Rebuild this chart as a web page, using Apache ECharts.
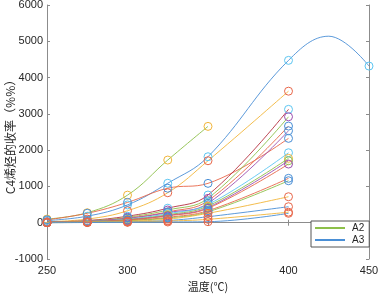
<!DOCTYPE html>
<html>
<head>
<meta charset="utf-8">
<script src="https://cdn.jsdelivr.net/npm/echarts@6/dist/echarts.min.js"></script>
<style>
html, body { margin: 0; padding: 0; background: #fff; }
#chart { width: 380px; height: 294px; }
</style>
</head>
<body>
<div id="chart"></div>
<script>
// 温度点
var temps = [250, 275, 300, 325, 350, 400, 450];
// 各组收率数据（null = 无数据）
var runA2 = [100, 275, 760, 1727, 2655, null, null];
var runA3 = [60, 180, 490, 1088, 1818, 4474, 4317];
var run3 = [30, 100, 330, 826, 1708, 3625, null];
var run4 = [80, 260, 560, 950, 1085, 2325, null];
var run5 = [20, 60, 180, 400, 763, 3124, null];
var run6 = [15, 50, 150, 350, 672, 2920, null];
var run7 = [10, 40, 130, 300, 606, 2664, null];
var run8 = [10, 40, 120, 280, 534, 2534, null];
var run9 = [10, 30, 100, 250, 500, 1928, null];
var run10 = [10, 30, 90, 220, 460, 1774, null];
var run11 = [8, 25, 80, 200, 420, 1708, null];
var run12 = [8, 25, 75, 190, 397, 1617, null];
var run13 = [5, 20, 60, 150, 331, 1223, null];
var run14 = [5, 18, 55, 130, 300, 1157, null];
var run15 = [5, 15, 40, 100, 259, 716, null];
var run16 = [3, 10, 25, 60, 165, 441, null];
var run17 = [2, 8, 20, 45, 94, 290, null];
var run18 = [1, 5, 10, 20, 28, 259, null];
// A3 拟合曲线在 425℃ 附近的峰值
var a3PeakTemp = 425;
var a3PeakValue = 5140;

var C = {
    blue: '#4a8fd6', red: '#e8674a', yellow: '#f2b53a', purple: '#9c4fb0',
    green: '#8dc04a', lb: '#5cc6f2', dred: '#b5303f'
};
// [数据, 曲线颜色, 圆圈颜色, 名称]
var runs = [
    [runA2, C.green, C.yellow, 'A2'],
    [runA3, C.blue, C.lb, 'A3'],
    [run3, C.yellow, C.red],
    [run4, C.red, C.blue],
    [run5, C.dred, C.lb],
    [run6, C.green, C.purple],
    [run7, C.red, C.blue],
    [run8, C.purple, C.blue],
    [run9, C.lb, C.lb],
    [run10, C.green, C.yellow],
    [run11, C.purple, C.green],
    [run12, C.red, C.purple],
    [run13, C.red, C.blue],
    [run14, C.green, C.blue],
    [run15, C.yellow, C.red],
    [run16, C.blue, C.red],
    [run17, C.yellow, C.red],
    [run18, C.blue, C.red]
];

function pairs(vals) {
    var out = [];
    for (var i = 0; i < temps.length; i++) {
        if (vals[i] != null) out.push([temps[i], vals[i]]);
    }
    return out;
}

var series = [];
runs.forEach(function (r, k) {
    var pts = pairs(r[0]);
    var curve = pts.slice();
    if (k === 1) {
        curve.splice(curve.length - 1, 0, [a3PeakTemp, a3PeakValue]);
    }
    series.push({
        name: r[3] || ('s' + k),
        type: 'line',
        data: curve,
        smooth: 0.4,
        symbol: 'none',
        lineStyle: { color: r[1], width: 0.9 },
        itemStyle: { color: r[1] },
        silent: true,
        z: 2
    });
    series.push({
        type: 'scatter',
        data: pts,
        symbol: 'circle',
        symbolSize: 8,
        itemStyle: { color: 'rgba(0,0,0,0)', borderColor: r[2], borderWidth: 1, opacity: 1 },
        silent: true,
        z: 3
    });
});

var axisGray = '#8c8c8c';
var labelStyle = { color: '#262626', fontSize: 11, fontFamily: 'Liberation Sans, Arial, sans-serif' };
var plain = function (v) { return String(v); };

var chart = echarts.init(document.getElementById('chart'));
var option = {
    animation: false,
    backgroundColor: '#fff',
    grid: { left: 47, right: 11, top: 5, bottom: 35, containLabel: false, outerBoundsMode: 'none' },
    graphic: [{
        type: 'text',
        x: 10, y: 134,
        rotation: Math.PI / 2,
        style: {
            text: 'C4烯烃的收率（%%）',
            fill: '#262626',
            font: '12px "Noto Sans CJK SC"',
            align: 'center',
            verticalAlign: 'middle'
        }
    }],
    legend: {
        data: ['A2', 'A3'],
        orient: 'vertical',
        left: 311,
        top: 221,
        itemWidth: 30,
        itemHeight: 10,
        itemGap: 2,
        padding: [2, 5, 2, 3],
        backgroundColor: '#fff',
        borderColor: '#555',
        borderWidth: 1,
        borderRadius: 0,
        itemStyle: { color: 'rgba(0,0,0,0)', borderWidth: 0 },
        textStyle: { color: '#262626', fontSize: 10, fontFamily: 'Liberation Sans, Arial, sans-serif', padding: [0, 0, 0, 2] }
    },
    xAxis: [{
        type: 'value',
        min: 250, max: 450, interval: 50,
        name: '温度(℃)',
        nameLocation: 'middle',
        nameGap: 18,
        nameTextStyle: { color: '#262626', fontSize: 11, fontFamily: 'Noto Sans CJK SC' },
        axisLine: { lineStyle: { color: axisGray } },
        axisTick: { inside: true, length: 3, lineStyle: { color: axisGray } },
        axisLabel: Object.assign({ margin: 6, formatter: plain }, labelStyle),
        splitLine: { show: false }
    }, {
        type: 'value', position: 'top',
        min: 250, max: 450, interval: 50,
        axisLine: { lineStyle: { color: axisGray } },
        axisTick: { inside: true, length: 3, lineStyle: { color: axisGray } },
        axisLabel: { show: false },
        splitLine: { show: false }
    }],
    yAxis: [{
        type: 'value',
        min: -1000, max: 6000, interval: 1000,
        axisLine: { show: true, lineStyle: { color: axisGray } },
        axisTick: { show: true, inside: true, length: 3, lineStyle: { color: axisGray } },
        axisLabel: Object.assign({ margin: 4, formatter: plain }, labelStyle),
        splitLine: { show: false }
    }, {
        type: 'value', position: 'right',
        min: -1000, max: 6000, interval: 1000,
        axisLine: { show: true, lineStyle: { color: axisGray } },
        axisTick: { show: true, inside: true, length: 3, lineStyle: { color: axisGray } },
        axisLabel: { show: false },
        splitLine: { show: false }
    }],
    series: series
};
chart.setOption(option);
</script>
</body>
</html>
